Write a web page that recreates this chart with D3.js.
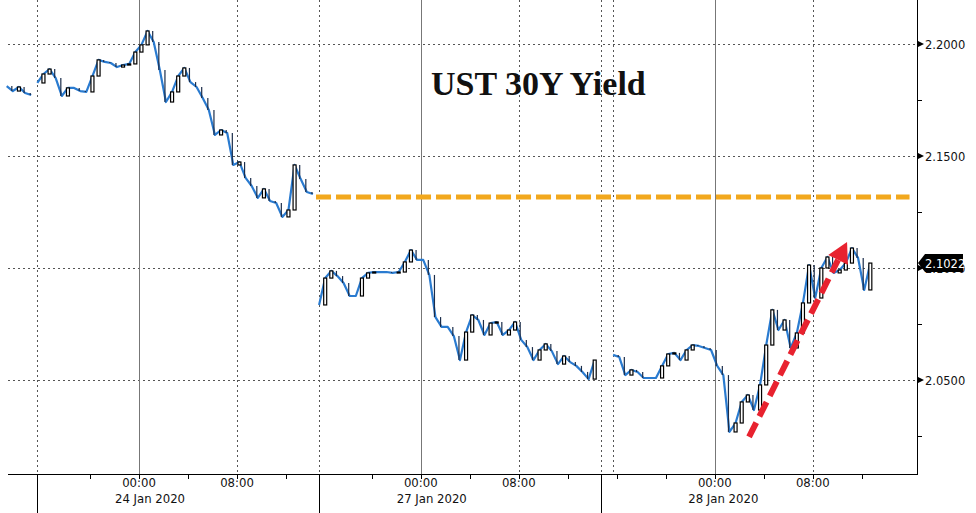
<!DOCTYPE html>
<html><head><meta charset="utf-8">
<script src="https://cdn.jsdelivr.net/npm/d3@7"></script>
<style>html,body{margin:0;padding:0;background:#fff;}svg{display:block;}</style>
</head><body>
<div id="chart"></div>
<script>
// ---- DATA (trading hours since 23 Jan 16:00, weekend removed; 0.5h steps) ----
const title = "UST 30Y Yield";
const stepHours = 0.5;
const jan23Start = -2.8;
const jan23 = [2.1812, 2.1790, 2.1808, 2.1781, 2.1772];
const jan24Start = -0.3;
const jan24 = [2.1826, 2.1866, 2.1888, 2.1848, 2.1768, 2.1804, 2.1804, 2.1790, 2.1786, 2.1857,
  2.1929, 2.1920, 2.1915, 2.1897, 2.1906, 2.1911, 2.1964, 2.1996, 2.2058, 2.2009,
  2.1884, 2.1741, 2.1786, 2.1857, 2.1893, 2.1830, 2.1808, 2.1759, 2.1705, 2.1594,
  2.1616, 2.1603, 2.1460, 2.1473, 2.1402, 2.1366, 2.1313, 2.1353, 2.1299, 2.1290,
  2.1228, 2.1259, 2.1460, 2.1397, 2.1339, 2.1330];
const jan27Start = 22.7;
const jan27 = [2.0835, 2.0955, 2.0987, 2.0964, 2.0933, 2.0875, 2.0875, 2.0955, 2.0978, 2.0982,
  2.0982, 2.0982, 2.0978, 2.0982, 2.1027, 2.1080, 2.1036, 2.1036, 2.0969, 2.0781,
  2.0737, 2.0737, 2.0696, 2.0589, 2.0714, 2.0790, 2.0768, 2.0701, 2.0754, 2.0759,
  2.0701, 2.0723, 2.0759, 2.0679, 2.0647, 2.0589, 2.0634, 2.0661, 2.0629, 2.0571,
  2.0607, 2.0580, 2.0563, 2.0536, 2.0504, 2.0589];
const jan28Start = 46.7;
const jan28 = [2.0612, 2.0603, 2.0522, 2.0545, 2.0536, 2.0509, 2.0509, 2.0509, 2.0563, 2.0616,
  2.0621, 2.0589, 2.0634, 2.0656, 2.0652, 2.0643, 2.0634, 2.0563, 2.0522, 2.0268,
  2.0308, 2.0402, 2.0433, 2.0366, 2.0478, 2.0656, 2.0813, 2.0723, 2.0768, 2.0643,
  2.0710, 2.0844, 2.1013, 2.0866, 2.1000, 2.1049, 2.0978, 2.0991, 2.1022, 2.1089,
  2.1045, 2.0902, 2.1022];

const yMajorTicks = [2.05, 2.10, 2.15, 2.20];
const yMinorTicks = [2.025, 2.075, 2.125, 2.175];
const xTickHours = [8, 16, 31, 39, 55, 63];
const xTickLabels = ["00:00", "08:00", "00:00", "08:00", "00:00", "08:00"];
const dayLabels = ["24 Jan 2020", "27 Jan 2020", "28 Jan 2020"];
const dayLabelHours = [8.9, 31.9, 55.7];
const sessionBreakHours = [-0.3, 22.7, 45.7];
const midnightHours = [8, 31, 55];
const dottedHours = [-0.3, 16, 22.7, 39, 45.7, 46.7, 63];
const smallTickHours = [4, 8, 12, 16, 20, 27, 31, 35, 39, 43, 47, 51, 55, 59, 63, 67];
const fridayClose = 2.1317;
const fridayLineHours = [22.45, 70.9];
const arrowFrom = [57.8, 2.0246];
const arrowTo = [65.8, 2.1116];
const lastValue = 2.1022;

// ---- DRAW ----
const W = 976, H = 513;
const svg = d3.select("#chart").append("svg").attr("width", W).attr("height", H);
const x = d3.scaleLinear().domain([0, 70]).range([41, 41 + 70 * 12.25]);
const y = d3.scaleLinear().domain([2.05, 2.20]).range([380, 44]);
const axisX = 917, axisY = 474, plotLeft = 8;

// grid
const grid = svg.append("g");
grid.selectAll("line.hg").data(yMajorTicks).join("line")
  .attr("x1", plotLeft).attr("x2", axisX).attr("y1", d => Math.round(y(d)) + 0.5).attr("y2", d => Math.round(y(d)) + 0.5)
  .attr("stroke", "#555").attr("stroke-dasharray", "2,3").attr("stroke-width", 1);
grid.selectAll("line.vd").data(dottedHours).join("line")
  .attr("x1", d => Math.round(x(d)) + 0.5).attr("x2", d => Math.round(x(d)) + 0.5)
  .attr("y1", 0).attr("y2", axisY)
  .attr("stroke", "#555").attr("stroke-dasharray", "2,3").attr("stroke-width", 1);
grid.selectAll("line.vm").data(midnightHours).join("line")
  .attr("x1", d => Math.round(x(d)) + 0.5).attr("x2", d => Math.round(x(d)) + 0.5)
  .attr("y1", 0).attr("y2", axisY)
  .attr("stroke", "#777").attr("stroke-width", 1);

// title
svg.append("text").attr("x", 431).attr("y", 95).text(title)
  .attr("font-family", "Liberation Serif, Times New Roman, serif")
  .attr("font-weight", "bold").attr("font-size", 34).attr("fill", "#111");

// friday close orange dashed line
svg.append("line")
  .attr("x1", x(fridayLineHours[0])).attr("x2", x(fridayLineHours[1]))
  .attr("y1", y(fridayClose)).attr("y2", y(fridayClose))
  .attr("stroke", "#f2a81d").attr("stroke-width", 5).attr("stroke-dasharray", "15,5");

// series
const sessions = [[jan23Start, jan23], [jan24Start, jan24], [jan27Start, jan27], [jan28Start, jan28]];
const line = d3.line().x(d => x(d.h)).y(d => y(d.v));
const gS = svg.append("g");
sessions.forEach(([start, vals]) => {
  const pts = vals.map((v, i) => ({h: start + i * stepHours, v, prev: i > 0 ? vals[i - 1] : v}));
  gS.append("path").datum(pts).attr("d", line)
    .attr("fill", "none").attr("stroke", "#2a7bd0").attr("stroke-width", 2.2)
    .attr("stroke-linejoin", "round");
  gS.selectAll(null).data(pts.filter(p => p.v < p.prev)).join("line")
    .attr("x1", p => x(p.h) - 1).attr("x2", p => x(p.h) - 1)
    .attr("y1", p => y(p.prev)).attr("y2", p => y(p.v))
    .attr("stroke", "#1b2d4a").attr("stroke-width", 1.2);
  gS.selectAll(null).data(pts.filter(p => p.v > p.prev)).join("rect")
    .attr("x", p => x(p.h) - 1.5).attr("width", 3)
    .attr("y", p => y(p.v)).attr("height", p => Math.max(1, y(p.prev) - y(p.v)))
    .attr("fill", "#fff").attr("stroke", "#000").attr("stroke-width", 1.2);
});

// red dashed arrow
const ax1 = x(arrowFrom[0]), ay1 = y(arrowFrom[1]), ax2 = x(arrowTo[0]), ay2 = y(arrowTo[1]);
const ang = Math.atan2(ay2 - ay1, ax2 - ax1);
const headLen = 20, headW = 11;
const bx = ax2 - headLen * Math.cos(ang), by = ay2 - headLen * Math.sin(ang);
svg.append("line").attr("x1", ax1).attr("y1", ay1).attr("x2", bx).attr("y2", by)
  .attr("stroke", "#e8222f").attr("stroke-width", 6).attr("stroke-dasharray", "16,7");
svg.append("polygon")
  .attr("points", [[ax2, ay2],
    [bx + headW * Math.sin(ang), by - headW * Math.cos(ang)],
    [bx - headW * Math.sin(ang), by + headW * Math.cos(ang)]].map(p => p.join(",")).join(" "))
  .attr("fill", "#e8222f");

// axes
svg.append("line").attr("x1", axisX + 0.5).attr("x2", axisX + 0.5).attr("y1", 0).attr("y2", axisY + 1)
  .attr("stroke", "#000");
svg.append("line").attr("x1", plotLeft).attr("x2", axisX + 1).attr("y1", axisY + 0.5).attr("y2", axisY + 0.5)
  .attr("stroke", "#000");
// right axis ticks
svg.selectAll("line.ymin").data(yMinorTicks).join("line")
  .attr("x1", axisX).attr("x2", axisX + 5).attr("y1", d => Math.round(y(d)) + 0.5).attr("y2", d => Math.round(y(d)) + 0.5)
  .attr("stroke", "#000");
svg.selectAll("polygon.ymaj").data(yMajorTicks).join("polygon")
  .attr("points", d => `${axisX},${y(d) - 3.5} ${axisX + 7},${y(d)} ${axisX},${y(d) + 3.5}`)
  .attr("fill", "#000");
svg.selectAll("text.ylab").data(yMajorTicks).join("text")
  .attr("x", axisX + 8).attr("y", d => y(d) + 4.5).text(d => d.toFixed(4))
  .attr("font-family", "DejaVu Sans, Verdana, sans-serif").attr("font-size", 11.5).attr("fill", "#111");

// bottom axis ticks and labels
svg.selectAll("line.xt").data(smallTickHours).join("line")
  .attr("x1", d => Math.round(x(d)) + 0.5).attr("x2", d => Math.round(x(d)) + 0.5)
  .attr("y1", axisY).attr("y2", axisY + 5).attr("stroke", "#000");
svg.selectAll("line.sep").data(sessionBreakHours).join("line")
  .attr("x1", d => Math.round(x(d)) + 0.5).attr("x2", d => Math.round(x(d)) + 0.5)
  .attr("y1", axisY).attr("y2", H).attr("stroke", "#000");
svg.selectAll("text.xl").data(xTickHours).join("text")
  .attr("x", d => x(d)).attr("y", 487).attr("text-anchor", "middle")
  .text((d, i) => xTickLabels[i])
  .attr("font-family", "DejaVu Sans Condensed, Liberation Sans Narrow, sans-serif").attr("font-size", 13).attr("fill", "#111");
svg.selectAll("text.dl").data(dayLabelHours).join("text")
  .attr("x", d => x(d)).attr("y", 503).attr("text-anchor", "middle")
  .text((d, i) => dayLabels[i])
  .attr("font-family", "DejaVu Sans Condensed, Liberation Sans Narrow, sans-serif").attr("font-size", 13).attr("fill", "#111");

// last value box (covers the 2.1000 label, as in the original)
const ly = y(lastValue);
svg.append("polygon")
  .attr("points", `${axisX + 1},${ly} ${axisX + 8},${ly - 9} ${axisX + 46},${ly - 9} ${axisX + 46},${ly + 9} ${axisX + 8},${ly + 9}`)
  .attr("fill", "#000");
svg.append("text").attr("x", axisX + 8).attr("y", ly + 4.5).text(lastValue.toFixed(4))
  .attr("font-family", "DejaVu Sans, Verdana, sans-serif").attr("font-size", 11.5).attr("fill", "#fff");
</script>
</body></html>
